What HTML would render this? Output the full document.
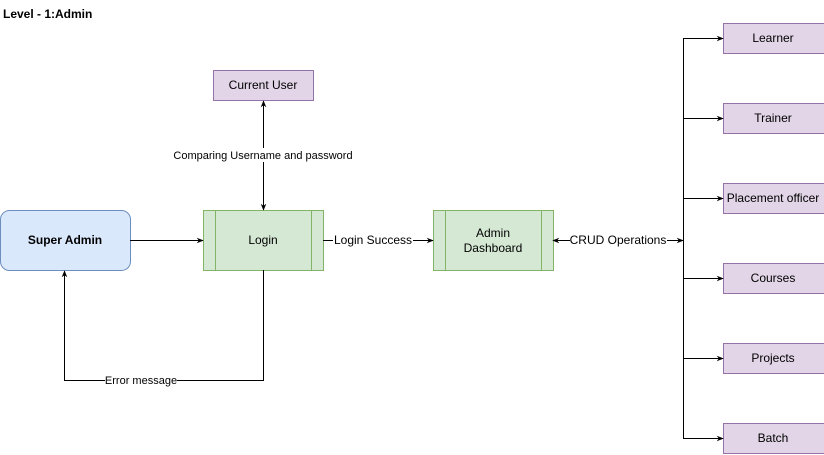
<!DOCTYPE html>
<html><head><style>body{margin:0;background:#fff}svg{display:block}text{font-family:"Liberation Sans",sans-serif;font-size:12px;fill:#000}</style></head><body>
<svg width="824" height="455" viewBox="0 0 824 455" xmlns="http://www.w3.org/2000/svg">
<defs><marker id="a" viewBox="0 0 10 10" refX="9" refY="5" markerWidth="7" markerHeight="7" orient="auto-start-reverse"><path d="M0,1 L10,5 L0,9 L3,5Z" fill="#000"/></marker></defs>
<text x="3" y="18" style="font-weight:bold;font-size:12px">Level - 1:Admin</text>
<rect x="0.5" y="210.5" width="130" height="60" rx="9" fill="#dae8fc" stroke="#6c8ebf"/>
<text x="65" y="244" text-anchor="middle" style="font-weight:bold">Super Admin</text>
<rect x="203.5" y="210.5" width="120" height="60" fill="#d5e8d4" stroke="#82b366"/>
<line x1="215.5" y1="210" x2="215.5" y2="270" stroke="#82b366"/><line x1="311.5" y1="210" x2="311.5" y2="270" stroke="#82b366"/>
<text x="263" y="244" text-anchor="middle">Login</text>
<rect x="433.5" y="210.5" width="120" height="60" fill="#d5e8d4" stroke="#82b366"/>
<line x1="445.5" y1="210" x2="445.5" y2="270" stroke="#82b366"/><line x1="541.5" y1="210" x2="541.5" y2="270" stroke="#82b366"/>
<text x="493" y="237" text-anchor="middle">Admin</text><text x="493" y="252" text-anchor="middle">Dashboard</text>
<rect x="213.5" y="70.5" width="100" height="30" fill="#e1d5e7" stroke="#9673a6"/>
<text x="263" y="89" text-anchor="middle">Current User</text>
<g fill="#e1d5e7" stroke="#9673a6">
<rect x="723.5" y="23.5" width="102" height="30"/><rect x="723.5" y="103.5" width="102" height="30"/><rect x="723.5" y="183.5" width="102" height="30"/><rect x="723.5" y="263.5" width="102" height="30"/><rect x="723.5" y="343.5" width="102" height="30"/><rect x="723.5" y="423.5" width="102" height="30"/></g>
<g text-anchor="middle"><text x="773" y="42">Learner</text><text x="773" y="122">Trainer</text><text x="773" y="202">Placement officer</text><text x="773" y="282">Courses</text><text x="773" y="362">Projects</text><text x="773" y="442">Batch</text></g>
<g stroke="#000" fill="none">
<line x1="130" y1="240.5" x2="203" y2="240.5" marker-end="url(#a)"/>
<line x1="263.5" y1="101" x2="263.5" y2="210" marker-start="url(#a)" marker-end="url(#a)"/>
<line x1="323" y1="240.5" x2="433" y2="240.5" marker-end="url(#a)"/>
<line x1="553" y1="240.5" x2="683" y2="240.5" marker-start="url(#a)" marker-end="url(#a)"/>
<polyline points="263.5,270 263.5,380.5 64.5,380.5 64.5,271" marker-end="url(#a)"/>
<line x1="683.5" y1="38" x2="683.5" y2="438"/>
<line x1="683" y1="38.5" x2="723" y2="38.5" marker-end="url(#a)"/>
<line x1="683" y1="118.5" x2="723" y2="118.5" marker-end="url(#a)"/>
<line x1="683" y1="198.5" x2="723" y2="198.5" marker-end="url(#a)"/>
<line x1="683" y1="278.5" x2="723" y2="278.5" marker-end="url(#a)"/>
<line x1="683" y1="358.5" x2="723" y2="358.5" marker-end="url(#a)"/>
<line x1="683" y1="438.5" x2="723" y2="438.5" marker-end="url(#a)"/>
</g>
<rect x="172" y="148" width="182" height="14" fill="#fff"/>
<text x="263" y="159" text-anchor="middle" style="font-size:11px">Comparing Username and password</text>
<rect x="333" y="232" width="80" height="15" fill="#fff"/>
<text x="373" y="244" text-anchor="middle">Login Success</text>
<rect x="570" y="232" width="97" height="15" fill="#fff"/>
<text x="618" y="244" text-anchor="middle">CRUD Operations</text>
<rect x="105" y="373" width="72" height="14" fill="#fff"/>
<text x="141" y="384" text-anchor="middle" style="font-size:11px">Error message</text>
</svg>
</body></html>
